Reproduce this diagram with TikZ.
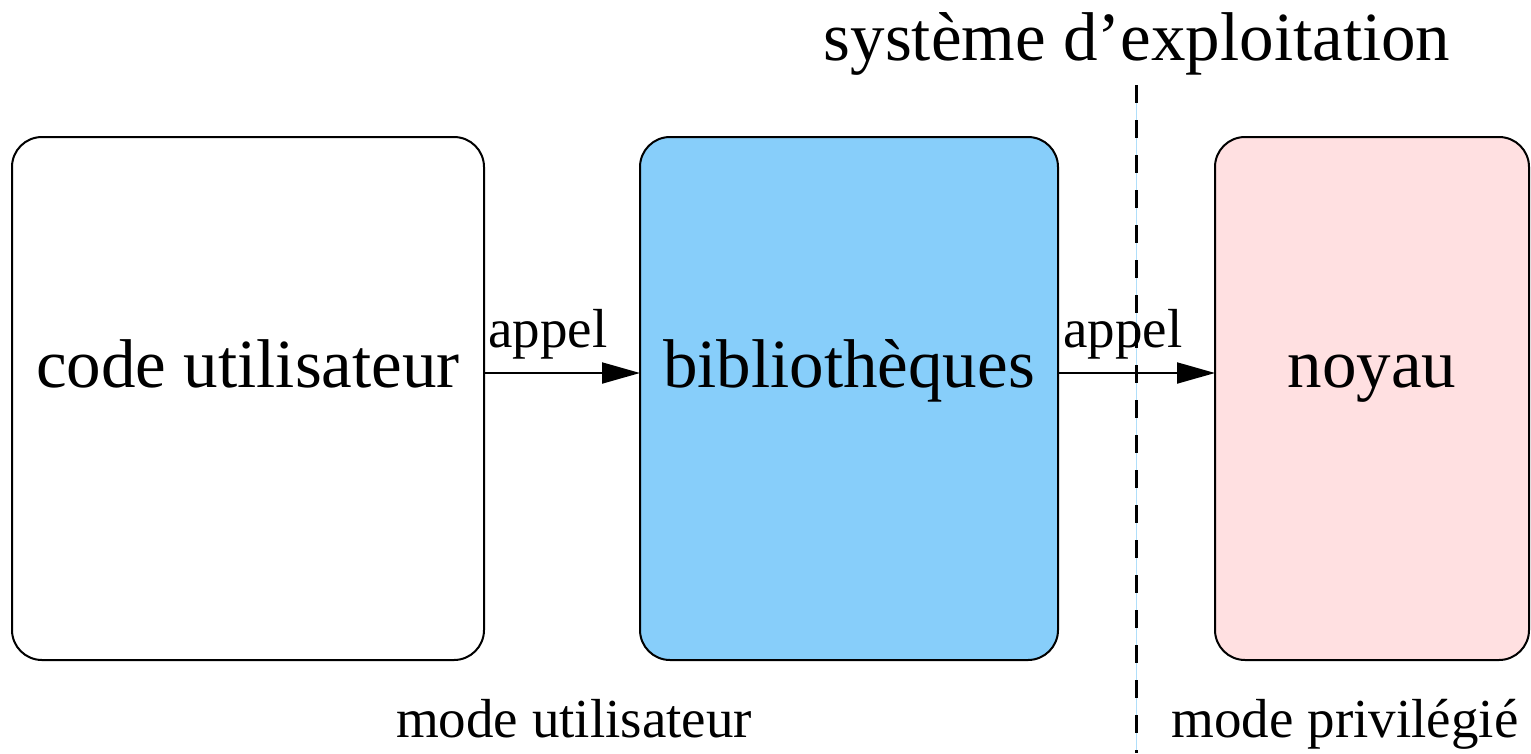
\documentclass[tikz,border=0pt]{standalone}
\usepackage{fontspec}
\setmainfont{Liberation Serif}
\usetikzlibrary{arrows.meta}
\definecolor{libblue}{RGB}{135,206,250}
\definecolor{kernpink}{RGB}{255,224,225}
\definecolor{sepblue}{RGB}{175,222,250}
\tikzset{
  box/.style={draw=black, line width=2pt, rounded corners=30pt},
  big/.style={font=\fontsize{69}{80}\selectfont, anchor=base, inner sep=0pt},
  small/.style={font=\fontsize{55}{64}\selectfont, anchor=base, inner sep=0pt},
  call/.style={line width=2pt, -{Triangle[length=38pt,width=21pt]}},
}
\begin{document}
\begin{tikzpicture}[x=1pt,y=-1pt]
\useasboundingbox (0,0) rectangle (1531,753);
% boxes
\draw[box, fill=white] (12,137) rectangle (484,660);
\draw[box, fill=libblue] (640,137) rectangle (1058,660);
\draw[box, fill=kernpink] (1215,137) rectangle (1529,660);
\coordinate (b1e) at (484,373);
\coordinate (b2w) at (640,373);
\coordinate (b2e) at (1058,373);
\coordinate (b3w) at (1215,373);
% labels in boxes
\node[big] (code) at (248,387) {code utilisateur};
\node[big] (lib) at (849,387) {bibliothèques};
\node[big] (noy) at (1372,387) {noyau};
% separator
\coordinate (septop) at (1136.5,85);
\coordinate (sepbot) at (1136.5,753);
\draw[sepblue, line width=1.5pt] (septop) -- (sepbot);
\draw[black, line width=2.2pt, dash pattern=on 17.5pt off 17.5pt] (septop) -- (sepbot);
% arrows
\draw[call] (b1e) -- (b2w);
\draw[call] (b2e) -- (b3w);
\node[small] (a1) at (548,347) {appel};
\node[small] (a2) at (1123,347) {appel};
% titles
\node[big] (os) at (1137,60) {système d’exploitation};
\node[small] (mu) at (574,737) {mode utilisateur};
\node[small] (mp) at (1345,737) {mode privilégié};
\end{tikzpicture}
\end{document}
